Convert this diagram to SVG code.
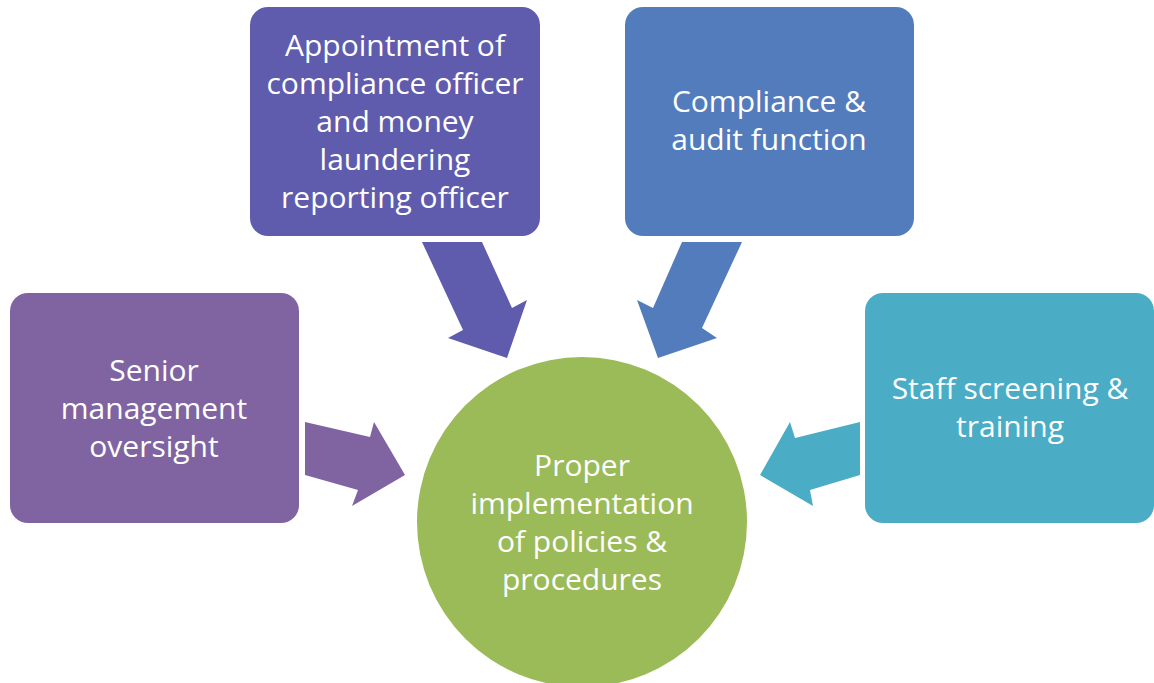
<svg xmlns="http://www.w3.org/2000/svg" width="1154" height="683" viewBox="0 0 1154 683">
<style>
text{font-family:"Open Sans","Noto Sans",sans-serif;font-size:30px;fill:#fff;text-anchor:middle}
</style>
<rect width="1154" height="683" fill="#fff"/>
<g id="connectors">
<polygon fill="#8064A2" points="305,422 370,437 374,422 405,475 352,506 358,490 305,475"/>
<polygon fill="#5F5BAD" points="422,242 482,242 512,308 527,300 507,358 448,338 463,330"/>
<polygon fill="#537CBC" points="742,242 682,242 653,308 637,300 658,358 717,338 702,328"/>
<polygon fill="#4BACC6" points="860,422 860,475 810,490 813,506 760,475 790,422 795,438"/>
</g>
<g id="senior">
<rect x="10" y="293" width="289" height="230" rx="18" fill="#8064A2"/>
<text x="154" y="381">Senior</text>
<text x="154" y="419">management</text>
<text x="154" y="457">oversight</text>
</g>
<g id="appointment">
<rect x="250" y="7" width="290" height="229" rx="18" fill="#5F5BAD"/>
<text x="395" y="56">Appointment of</text>
<text x="395" y="94">compliance officer</text>
<text x="395" y="132">and money</text>
<text x="395" y="170">laundering</text>
<text x="395" y="208">reporting officer</text>
</g>
<g id="compliance">
<rect x="625" y="7" width="289" height="229" rx="18" fill="#537CBC"/>
<text x="769" y="112">Compliance &amp;</text>
<text x="769" y="150">audit function</text>
</g>
<g id="staff">
<rect x="865" y="293" width="289" height="230" rx="18" fill="#4BACC6"/>
<text x="1010" y="399">Staff screening &amp;</text>
<text x="1010" y="437">training</text>
</g>
<g id="center">
<circle cx="582" cy="522" r="165" fill="#9BBB59"/>
<text x="582" y="476">Proper</text>
<text x="582" y="514">implementation</text>
<text x="582" y="552">of policies &amp;</text>
<text x="582" y="590">procedures</text>
</g>
</svg>
